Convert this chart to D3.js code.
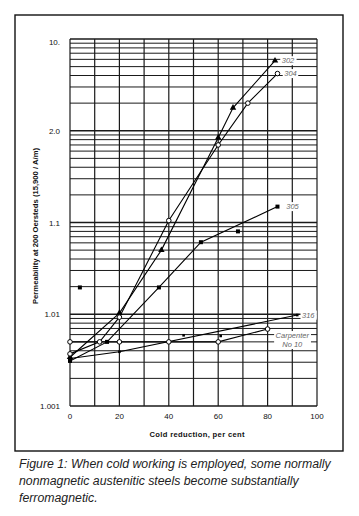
<!DOCTYPE html>
<html lang="en">
<head>
<meta charset="UTF-8">
<title>Permeability vs cold reduction</title>
<script src="https://d3js.org/d3.v7.min.js"></script>
<style>
  body { margin: 0; background: #fff; }
  svg { display: block; }
  .tick-label { font: 8px "Liberation Sans", Arial, sans-serif; fill: #111; }
  .axis-title { font: bold 7.6px "Liberation Sans", Arial, sans-serif; fill: #111; }
  .series-label { font: italic 7.5px "Liberation Sans", Arial, sans-serif; fill: #666; }
  .caption { font-family: "Liberation Sans", sans-serif; font-style: italic; fill: #222; }
</style>
</head>
<body>
<div id="chart"></div>
<script>
// x ticks and y ticks (y axis is drawn on a log scale of permeability - 1)
const xTicks = [0, 20, 40, 60, 80, 100];
const yTickValues = [0.001, 0.01, 0.1, 1, 10];
const yTickLabels = ["1.001", "1.01", "1.1", "2.0", "10."];

// series values: [cold reduction %, permeability - 1]
const s302 = [[0, 0.0034], [20, 0.0103], [37, 0.050], [60, 0.84], [66, 1.78], [83, 5.8]];
const s304 = [[0, 0.0037], [12, 0.0050], [20, 0.0093], [40, 0.105], [60, 0.70], [72, 2.0], [84, 4.2]];
const s305 = [[0, 0.0031], [15, 0.0050], [36, 0.0196], [53, 0.061], [84, 0.149]];
const s305Loose = [[4, 0.0196], [68, 0.080]];
const s316 = [[0, 0.0033], [20, 0.0039], [92, 0.0098]];
const s316Loose = [[46, 0.0059], [61, 0.0058]];
const carpenter = [[0, 0.0050], [20, 0.0050], [40, 0.0050], [60, 0.0050], [80, 0.0069]];

const width = 359, height = 516;
const svg = d3.select("#chart").append("svg")
    .attr("width", width).attr("height", height);

// outer frame
svg.append("rect")
    .attr("x", 15).attr("y", 15).attr("width", 328).attr("height", 436)
    .attr("fill", "none").attr("stroke", "#111").attr("stroke-width", 1.4);

const x = d3.scaleLinear().domain([0, 100]).range([70, 317]);
const y = d3.scaleLog().domain([0.001, 10]).range([406, 39]);

// grid
const grid = svg.append("g").attr("stroke", "#1a1a1a");
d3.range(0, 101, 10).forEach(v => {
    grid.append("line")
        .attr("x1", x(v)).attr("x2", x(v))
        .attr("y1", y(0.001)).attr("y2", y(10))
        .attr("stroke-width", 1.2);
});
[0.001, 0.01, 0.1, 1].forEach(dec => {
    d3.range(1, 10).forEach(k => {
        grid.append("line")
            .attr("x1", x(0)).attr("x2", x(100))
            .attr("y1", y(dec * k)).attr("y2", y(dec * k))
            .attr("stroke-width", k === 1 ? 1.3 : 1);
    });
});
grid.append("line")
    .attr("x1", x(0)).attr("x2", x(100))
    .attr("y1", y(10)).attr("y2", y(10)).attr("stroke-width", 1.3);

// tick labels
svg.append("g").selectAll("text")
    .data(xTicks).join("text")
    .attr("class", "tick-label")
    .attr("x", d => x(d)).attr("y", 419)
    .attr("text-anchor", "middle")
    .text(d => d);

svg.append("g").selectAll("text")
    .data(yTickValues).join("text")
    .attr("class", "tick-label")
    .attr("x", 60).attr("y", (d, i) => y(d) + (i === 4 ? 6 : 3))
    .attr("text-anchor", "end")
    .text((d, i) => yTickLabels[i]);

svg.append("text")
    .attr("class", "axis-title")
    .attr("x", 197).attr("y", 437)
    .attr("text-anchor", "middle")
    .attr("textLength", 95)
    .text("Cold reduction, per cent");

svg.append("text")
    .attr("class", "axis-title")
    .attr("transform", "translate(38,226) rotate(-90)")
    .attr("text-anchor", "middle")
    .attr("textLength", 156)
    .attr("lengthAdjust", "spacingAndGlyphs")
    .text("Permeability at 200 Oersteds (15,900 / A/m)");

// lines
const line = d3.line().x(d => x(d[0])).y(d => y(d[1]));
const plot = svg.append("g");
[s302, s304, s305, s316, carpenter].forEach(s => {
    plot.append("path")
        .attr("d", line(s))
        .attr("fill", "none")
        .attr("stroke", "#000")
        .attr("stroke-width", 1.1);
});

// markers
function triangles(data) {
    plot.append("g").selectAll("path").data(data).join("path")
        .attr("d", d3.symbol(d3.symbolTriangle, 18))
        .attr("transform", d => `translate(${x(d[0])},${y(d[1])})`)
        .attr("fill", "#000");
}
function circles(data) {
    plot.append("g").selectAll("circle").data(data).join("circle")
        .attr("cx", d => x(d[0])).attr("cy", d => y(d[1])).attr("r", 2.3)
        .attr("fill", "#fff").attr("stroke", "#000").attr("stroke-width", 1);
}
function squares(data, s) {
    plot.append("g").selectAll("rect").data(data).join("rect")
        .attr("x", d => x(d[0]) - s / 2).attr("y", d => y(d[1]) - s / 2)
        .attr("width", s).attr("height", s)
        .attr("fill", "#000");
}
squares(s316, 2.6);
squares(s316Loose, 2.6);
squares(s305, 4);
squares(s305Loose, 4);
triangles(s302);
circles(s304);
circles(carpenter);

// series labels
function seriesLabel(lines, px, py) {
    const g = svg.append("g");
    const t = g.append("text")
        .attr("class", "series-label")
        .attr("x", px).attr("y", py)
        .attr("text-anchor", "middle");
    lines.forEach((s, i) => t.append("tspan").attr("x", px).attr("dy", i ? 9 : 0).text(s));
    const b = t.node().getBBox();
    g.insert("rect", "text")
        .attr("x", b.x - 1.5).attr("y", b.y).attr("width", b.width + 3).attr("height", b.height)
        .attr("fill", "#fff");
}
const last = s => s[s.length - 1];
seriesLabel(["302"], x(last(s302)[0]) + 13, y(last(s302)[1]) + 2.5);
seriesLabel(["304"], x(last(s304)[0]) + 13, y(last(s304)[1]) + 2.5);
seriesLabel(["305"], x(last(s305)[0]) + 15, y(last(s305)[1]) + 2.5);
seriesLabel(["316"], x(last(s316)[0]) + 11, y(last(s316)[1]) + 2.5);
seriesLabel(["Carpenter", "No 10"], x(90), y(last(carpenter)[1]) + 9);

// caption: font size chosen so the first line is as wide as in the print
const caption = ["Figure 1: When cold working is employed, some normally",
                 "nonmagnetic austenitic steels become substantially",
                 "ferromagnetic."];
const capText = svg.append("g").selectAll("text").data(caption).join("text")
    .attr("class", "caption")
    .attr("font-size", 14)
    .attr("x", 19).attr("y", (d, i) => 468 + i * 17)
    .text(d => d);
const capSize = Math.min(14, 14 * 312 / capText.nodes()[0].getComputedTextLength());
capText.attr("font-size", capSize);
</script>
</body>
</html>
